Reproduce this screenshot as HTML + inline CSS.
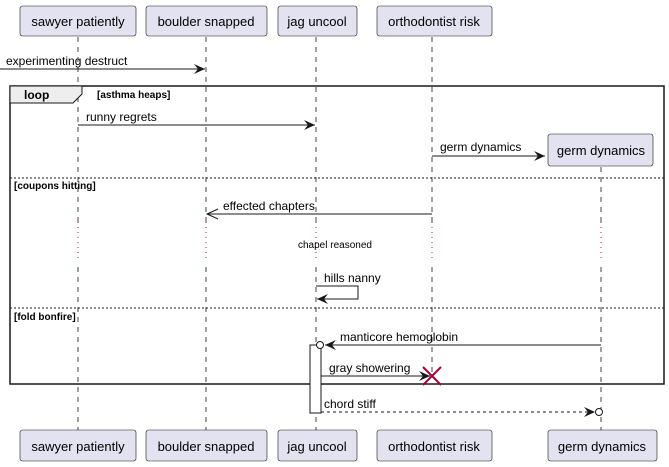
<!DOCTYPE html>
<html><head><meta charset="utf-8"><style>
html,body{margin:0;padding:0;background:#fff;}
svg{display:block;font-family:"Liberation Sans",sans-serif;}
</style></head><body>
<svg width="669" height="467" viewBox="0 0 669 467" xmlns="http://www.w3.org/2000/svg">
<defs>
<marker id="ah" markerWidth="12" markerHeight="10" refX="11" refY="5" orient="auto" markerUnits="userSpaceOnUse">
<path d="M0,0 L11,5 L0,10 L4,5 Z" fill="#181818"/></marker>
</defs>
<g stroke="#181818" stroke-width="0.8" stroke-dasharray="5,5">
<line x1="78" y1="37" x2="78" y2="430"/>
<line x1="206" y1="37" x2="206" y2="430"/>
<line x1="316" y1="37" x2="316" y2="430"/>
<line x1="432" y1="37" x2="432" y2="376"/>
<line x1="601" y1="167" x2="601" y2="430"/>
</g>
<g fill="#fff" stroke="none">
<rect x="70" y="222" width="560" height="40"/>
</g>
<g stroke="#c2185b" stroke-width="1" stroke-dasharray="1,4">
<line x1="78" y1="222" x2="78" y2="262"/><line x1="206" y1="222" x2="206" y2="262"/>
<line x1="316" y1="222" x2="316" y2="262"/><line x1="432" y1="222" x2="432" y2="262"/>
<line x1="601" y1="222" x2="601" y2="262"/>
</g>
<g fill="#e2e2f0" stroke="#181818" stroke-width="0.6">
<rect x="20" y="6" width="116" height="30" rx="2.5"/>
<rect x="146" y="6" width="121" height="30" rx="2.5"/>
<rect x="278" y="6" width="79" height="30" rx="2.5"/>
<rect x="377" y="6" width="115" height="30" rx="2.5"/>
<rect x="548" y="134" width="105" height="32" rx="2.5"/>
<rect x="20" y="430" width="116" height="31" rx="2.5"/>
<rect x="146" y="430" width="121" height="31" rx="2.5"/>
<rect x="278" y="430" width="79" height="31" rx="2.5"/>
<rect x="377" y="430" width="115" height="31" rx="2.5"/>
<rect x="548" y="430" width="109" height="31" rx="2.5"/>
</g>
<g font-size="13" fill="#000" text-anchor="middle">
<text x="78" y="26">sawyer patiently</text><text x="206" y="26">boulder snapped</text>
<text x="317" y="26">jag uncool</text><text x="434" y="26">orthodontist risk</text>
<text x="601" y="155">germ dynamics</text>
<text x="78" y="451">sawyer patiently</text><text x="206" y="451">boulder snapped</text>
<text x="317" y="451">jag uncool</text><text x="434" y="451">orthodontist risk</text>
<text x="602" y="451">germ dynamics</text>
</g>
<!-- loop -->
<rect x="10" y="86" width="654" height="298" fill="none" stroke="#181818" stroke-width="1.5"/>
<path d="M10,86 L82,86 L82,94 L73,103 L10,103 Z" fill="#eee" stroke="#181818" stroke-width="1"/>
<text x="24" y="99" font-size="12" font-weight="bold">loop</text>
<text x="97" y="98" font-size="10" font-weight="bold">[asthma heaps]</text>
<line x1="10" y1="178" x2="664" y2="178" stroke="#181818" stroke-dasharray="2,2" stroke-width="1"/>
<text x="14" y="189" font-size="10" font-weight="bold">[coupons hitting]</text>
<line x1="10" y1="308" x2="664" y2="308" stroke="#181818" stroke-dasharray="2,2" stroke-width="1"/>
<text x="14" y="320" font-size="10" font-weight="bold">[fold bonfire]</text>
<!-- messages -->
<g stroke="#181818" stroke-width="1" fill="none">
<line x1="0" y1="69" x2="205" y2="69" marker-end="url(#ah)"/>
<line x1="78" y1="125" x2="315" y2="125" marker-end="url(#ah)"/>
<line x1="432" y1="156" x2="545" y2="156" marker-end="url(#ah)"/>
<line x1="432" y1="214" x2="207" y2="214"/>
<path d="M218,209 L207,214 L218,219"/>
<path d="M316,286 L358,286 L358,299 L317,299" marker-end="url(#ah)"/>
<line x1="601" y1="345" x2="325" y2="345" marker-end="url(#ah)"/>
<rect x="310" y="345" width="11" height="68" fill="#fff"/>
<circle cx="320" cy="345" r="3.5" fill="#fff"/>
<line x1="321" y1="376" x2="430" y2="376" marker-end="url(#ah)"/>
<line x1="321" y1="412" x2="595" y2="412" stroke-dasharray="3,3" marker-end="url(#ah)"/>
<circle cx="599" cy="412" r="3.5" fill="#fff"/>
</g>
<g stroke="#a80036" stroke-width="2">
<line x1="423" y1="367" x2="441" y2="385"/><line x1="441" y1="367" x2="423" y2="385"/>
</g>
<g font-size="12" fill="#000">
<text x="6" y="65">experimenting destruct</text>
<text x="86" y="121">runny regrets</text>
<text x="440" y="151">germ dynamics</text>
<text x="223" y="210">effected chapters</text>
<text x="298" y="248" font-size="10">chapel reasoned</text>
<text x="324" y="282">hills nanny</text>
<text x="340" y="341">manticore hemoglobin</text>
<text x="329" y="372">gray showering</text>
<text x="324" y="408">chord stiff</text>
</g>
</svg>
</body></html>
